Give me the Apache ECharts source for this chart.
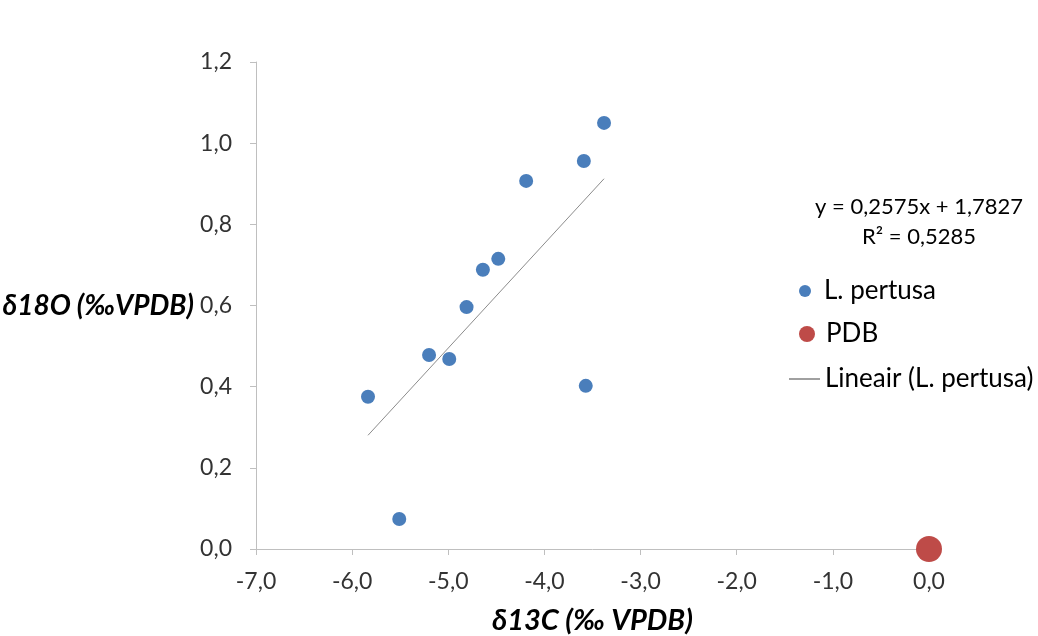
<!DOCTYPE html>
<html>
<head>
<meta charset="utf-8">
<script src="https://cdn.jsdelivr.net/npm/echarts@6/dist/echarts.min.js"></script>
<style>
  html, body { margin: 0; padding: 0; background: #fff; }
  #chart { width: 1038px; height: 636px; }
</style>
</head>
<body>
<div id="chart"></div>
<script>
// δ13C / δ18O isotope values of L. pertusa samples
const d13C = [-3.38, -3.59, -4.19, -4.48, -4.64, -4.81, -5.20, -4.99, -5.835, -3.57, -5.51];
const d18O = [1.050, 0.956, 0.907, 0.715, 0.688, 0.596, 0.478, 0.468, 0.375, 0.402, 0.074];

// PDB reference standard
const pdbC = [0.0];
const pdbO = [0.0];

// Linear trend line fitted to the L. pertusa samples
const slope = 0.2575;
const intercept = 1.7827;
const rSquared = 0.5285;

const xTicks = { min: -7, max: 0, step: 1 };
const yTicks = { min: 0, max: 1.2, step: 0.2 };

const FONT = 'Lato';
const comma = (v, d) => v.toFixed(d).replace('.', ',');

const samples = d13C.map((x, i) => [x, d18O[i]]);
const pdb = pdbC.map((x, i) => [x, pdbO[i]]);
const xMin = Math.min(...d13C), xMax = Math.max(...d13C);
const trend = [xMin, xMax].map(x => [x, slope * x + intercept]);

const chart = echarts.init(document.getElementById('chart'), null, { renderer: 'canvas' });

const legendText = { fontFamily: FONT, fontSize: 26, color: '#000' };
const titleStyle = { fontFamily: FONT, fontWeight: 'bold', fontStyle: 'italic', color: '#000' };

chart.setOption({
  animation: false,
  backgroundColor: '#fff',
  grid: { left: 256, right: 109, top: 62, bottom: 87, containLabel: false, outerBoundsMode: 'none' },
  xAxis: {
    type: 'value',
    min: xTicks.min, max: xTicks.max, interval: xTicks.step,
    name: 'δ13C (‰ VPDB)',
    nameLocation: 'middle',
    nameGap: 57,
    nameTextStyle: Object.assign({ fontSize: 29 }, titleStyle),
    axisLine: { onZero: false, lineStyle: { color: '#bfbfbf', width: 1 } },
    axisTick: { show: true, length: 6, lineStyle: { color: '#bfbfbf' } },
    axisLabel: { fontFamily: FONT, fontSize: 23, color: '#333', margin: 21,
                 formatter: v => comma(v, 1) },
    splitLine: { show: false }
  },
  yAxis: {
    type: 'value',
    min: yTicks.min, max: yTicks.max, interval: yTicks.step,
    name: 'δ18O (‰VPDB)',
    nameLocation: 'middle',
    nameRotate: 0,
    nameGap: 62,
    nameTextStyle: Object.assign({ fontSize: 28, align: 'right', verticalAlign: 'middle' }, titleStyle),
    axisLine: { show: true, onZero: false, lineStyle: { color: '#bfbfbf', width: 1 } },
    axisTick: { show: true, length: 6, lineStyle: { color: '#bfbfbf' } },
    axisLabel: { fontFamily: FONT, fontSize: 23, color: '#333', margin: 24,
                 formatter: v => comma(v, 1) },
    splitLine: { show: false }
  },
  legend: [
    { data: [{ name: 'L. pertusa', icon: 'circle' }], left: 799, top: 278, padding: 0,
      itemWidth: 28, itemHeight: 12, textStyle: legendText, selectedMode: false },
    { data: [{ name: 'PDB', icon: 'circle' }], left: 799, top: 321, padding: 0,
      itemWidth: 28, itemHeight: 16, textStyle: legendText, selectedMode: false },
    { data: [{ name: 'Lineair (L. pertusa)', icon: 'path://M0,0H31V1H0Z', itemStyle: { color: '#404040' } }],
      left: 789, top: 366, padding: 0, itemWidth: 31, itemHeight: 14,
      textStyle: legendText, selectedMode: false }
  ],
  graphic: [
    { type: 'text', x: 919, y: 207,
      style: { text: 'y = ' + comma(slope, 4) + 'x + ' + comma(intercept, 4),
               fontFamily: FONT, fontSize: 22, fill: '#000', align: 'center', verticalAlign: 'middle' } },
    { type: 'text', x: 919, y: 237,
      style: { text: 'R² = ' + comma(rSquared, 4),
               fontFamily: FONT, fontSize: 22, fill: '#000', align: 'center', verticalAlign: 'middle' } }
  ],
  series: [
    {
      name: 'L. pertusa', type: 'scatter', data: samples, symbol: 'circle', symbolSize: 14,
      itemStyle: { color: '#4A7EBB', opacity: 1 }, clip: false, z: 3
    },
    {
      name: 'PDB', type: 'scatter', data: pdb, symbol: 'circle', symbolSize: 26,
      itemStyle: { color: '#BE4B48', opacity: 1 }, clip: false, z: 3
    },
    {
      name: 'Lineair (L. pertusa)', type: 'line', data: trend, symbol: 'none',
      lineStyle: { color: '#8c8c8c', width: 1 }, z: 2
    }
  ]
});
</script>
</body>
</html>
